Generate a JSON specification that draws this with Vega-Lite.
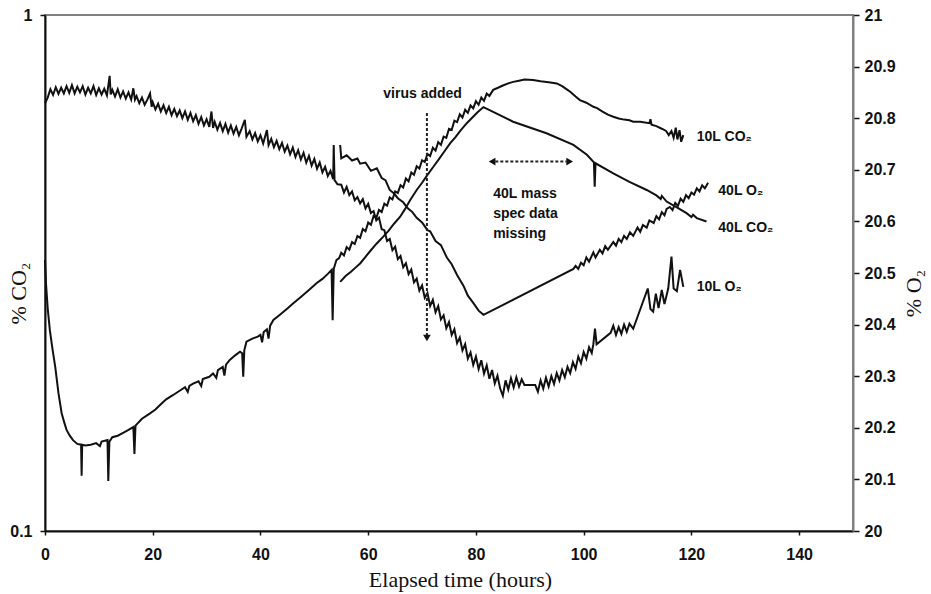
{
"$schema": "https://vega.github.io/schema/vega-lite/v6.json",
"width": 808, "height": 516,
"autosize": {"type": "none"},
"padding": {"left": 45, "top": 15, "right": 78, "bottom": 63},
"background": "white",
"config": {"view": {"stroke": "#808080", "strokeWidth": 2}},
"datasets": {
"co2": [
{"s":"10L","t":0,"v":0.335},{"s":"10L","t":0.2,"v":0.30},{"s":"10L","t":0.5,"v":0.27},{"s":"10L","t":0.9,"v":0.245},{"s":"10L","t":1.4,"v":0.225},{"s":"10L","t":1.9,"v":0.208},{"s":"10L","t":2.5,"v":0.185},{"s":"10L","t":3.1,"v":0.169},{"s":"10L","t":3.6,"v":0.162},{"s":"10L","t":4.0,"v":0.157},{"s":"10L","t":4.6,"v":0.153},{"s":"10L","t":5.2,"v":0.150},{"s":"10L","t":6.0,"v":0.1475},{"s":"10L","t":6.7,"v":0.147},{"s":"10L","t":6.8,"v":0.128},{"s":"10L","t":6.9,"v":0.147},{"s":"10L","t":7.5,"v":0.1465},{"s":"10L","t":8.5,"v":0.147},{"s":"10L","t":9.5,"v":0.148},{"s":"10L","t":10.2,"v":0.146},{"s":"10L","t":10.5,"v":0.149},{"s":"10L","t":11.6,"v":0.150},{"s":"10L","t":11.75,"v":0.125},{"s":"10L","t":11.95,"v":0.149},{"s":"10L","t":12.5,"v":0.152},{"s":"10L","t":13.5,"v":0.153},{"s":"10L","t":14.5,"v":0.155},{"s":"10L","t":15.5,"v":0.157},{"s":"10L","t":16.4,"v":0.159},{"s":"10L","t":16.6,"v":0.141},{"s":"10L","t":16.8,"v":0.160},{"s":"10L","t":18,"v":0.165},{"s":"10L","t":19.5,"v":0.169},{"s":"10L","t":20.5,"v":0.172},{"s":"10L","t":21.5,"v":0.176},{"s":"10L","t":22.5,"v":0.180},{"s":"10L","t":23.8,"v":0.1835},{"s":"10L","t":25,"v":0.187},{"s":"10L","t":26,"v":0.190},{"s":"10L","t":26.5,"v":0.186},{"s":"10L","t":26.8,"v":0.191},{"s":"10L","t":27.5,"v":0.193},{"s":"10L","t":28.5,"v":0.195},{"s":"10L","t":29,"v":0.191},{"s":"10L","t":29.3,"v":0.197},{"s":"10L","t":30.5,"v":0.199},{"s":"10L","t":31.2,"v":0.202},{"s":"10L","t":31.8,"v":0.198},{"s":"10L","t":32.1,"v":0.205},{"s":"10L","t":33,"v":0.208},{"s":"10L","t":33.3,"v":0.200},{"s":"10L","t":33.6,"v":0.210},{"s":"10L","t":34.3,"v":0.2145},{"s":"10L","t":35.3,"v":0.219},{"s":"10L","t":36.2,"v":0.2226},{"s":"10L","t":36.6,"v":0.221},{"s":"10L","t":36.8,"v":0.199},{"s":"10L","t":37.0,"v":0.224},{"s":"10L","t":37.4,"v":0.2327},{"s":"10L","t":38.5,"v":0.236},{"s":"10L","t":39.5,"v":0.238},{"s":"10L","t":40,"v":0.240},{"s":"10L","t":40.3,"v":0.232},{"s":"10L","t":40.6,"v":0.243},{"s":"10L","t":41.2,"v":0.246},{"s":"10L","t":41.5,"v":0.236},{"s":"10L","t":41.8,"v":0.250},{"s":"10L","t":42.4,"v":0.2564},{"s":"10L","t":43.5,"v":0.262},{"s":"10L","t":45,"v":0.270},{"s":"10L","t":46.1,"v":0.2762},{"s":"10L","t":47.5,"v":0.284},{"s":"10L","t":49,"v":0.293},{"s":"10L","t":50.4,"v":0.302},{"s":"10L","t":51.5,"v":0.308},{"s":"10L","t":52.5,"v":0.315},{"s":"10L","t":53.2,"v":0.3205},{"s":"10L","t":53.4,"v":0.256},{"s":"10L","t":53.6,"v":0.322},{"s":"10L","t":54.1,"v":0.335},{"s":"10L","t":54.6,"v":0.338},
{"s":"10L","t":55,"v":0.346},{"s":"10L","t":55.5,"v":0.342},{"s":"10L","t":56,"v":0.355},{"s":"10L","t":56.5,"v":0.351},{"s":"10L","t":57,"v":0.363},{"s":"10L","t":57.5,"v":0.360},{"s":"10L","t":58,"v":0.373},{"s":"10L","t":58.5,"v":0.370},{"s":"10L","t":59,"v":0.385},{"s":"10L","t":59.5,"v":0.381},{"s":"10L","t":60,"v":0.396},{"s":"10L","t":60.5,"v":0.392},{"s":"10L","t":61,"v":0.408},{"s":"10L","t":61.5,"v":0.404},{"s":"10L","t":62,"v":0.419},{"s":"10L","t":62.5,"v":0.415},{"s":"10L","t":63,"v":0.431},{"s":"10L","t":63.5,"v":0.427},{"s":"10L","t":64,"v":0.443},{"s":"10L","t":64.5,"v":0.439},{"s":"10L","t":65,"v":0.455},{"s":"10L","t":65.5,"v":0.452},{"s":"10L","t":66,"v":0.468},{"s":"10L","t":66.5,"v":0.463},{"s":"10L","t":67,"v":0.482},{"s":"10L","t":67.5,"v":0.476},{"s":"10L","t":68,"v":0.495},{"s":"10L","t":68.5,"v":0.490},{"s":"10L","t":69,"v":0.509},{"s":"10L","t":69.5,"v":0.504},{"s":"10L","t":70,"v":0.523},{"s":"10L","t":70.5,"v":0.519},{"s":"10L","t":71,"v":0.538},{"s":"10L","t":71.5,"v":0.533},{"s":"10L","t":72,"v":0.553},{"s":"10L","t":72.5,"v":0.546},{"s":"10L","t":73,"v":0.567},{"s":"10L","t":73.5,"v":0.560},{"s":"10L","t":74,"v":0.581},{"s":"10L","t":74.5,"v":0.578},{"s":"10L","t":75,"v":0.602},{"s":"10L","t":75.5,"v":0.599},{"s":"10L","t":76,"v":0.624},{"s":"10L","t":76.5,"v":0.620},{"s":"10L","t":77,"v":0.642},{"s":"10L","t":77.5,"v":0.633},{"s":"10L","t":78,"v":0.655},{"s":"10L","t":78.5,"v":0.646},{"s":"10L","t":79,"v":0.668},{"s":"10L","t":79.5,"v":0.659},{"s":"10L","t":80,"v":0.681},{"s":"10L","t":80.5,"v":0.670},{"s":"10L","t":81,"v":0.692},{"s":"10L","t":81.5,"v":0.682},{"s":"10L","t":82,"v":0.704},{"s":"10L","t":82.5,"v":0.697},
{"s":"10L","t":83.2,"v":0.716},{"s":"10L","t":84,"v":0.722},{"s":"10L","t":85,"v":0.730},{"s":"10L","t":86,"v":0.737},{"s":"10L","t":86.9,"v":0.742},{"s":"10L","t":88,"v":0.746},{"s":"10L","t":89,"v":0.750},{"s":"10L","t":90.6,"v":0.748},{"s":"10L","t":92,"v":0.744},{"s":"10L","t":93.5,"v":0.741},{"s":"10L","t":95,"v":0.737},{"s":"10L","t":96,"v":0.728},{"s":"10L","t":97,"v":0.716},{"s":"10L","t":97.5,"v":0.710},{"s":"10L","t":98.5,"v":0.695},{"s":"10L","t":99.3,"v":0.684},{"s":"10L","t":100.5,"v":0.676},{"s":"10L","t":101.8,"v":0.664},{"s":"10L","t":102.5,"v":0.660},{"s":"10L","t":103.5,"v":0.650},{"s":"10L","t":104.5,"v":0.641},{"s":"10L","t":105.5,"v":0.635},{"s":"10L","t":106.5,"v":0.630},{"s":"10L","t":107.5,"v":0.627},{"s":"10L","t":108.5,"v":0.625},{"s":"10L","t":109.2,"v":0.621},{"s":"10L","t":110.5,"v":0.621},{"s":"10L","t":112.2,"v":0.617},{"s":"10L","t":112.4,"v":0.628},{"s":"10L","t":112.6,"v":0.613},{"s":"10L","t":113.5,"v":0.609},{"s":"10L","t":114.5,"v":0.602},{"s":"10L","t":115.3,"v":0.596},{"s":"10L","t":115.8,"v":0.585},{"s":"10L","t":116.3,"v":0.596},{"s":"10L","t":116.7,"v":0.578},{"s":"10L","t":117.1,"v":0.605},{"s":"10L","t":117.4,"v":0.574},{"s":"10L","t":117.8,"v":0.598},{"s":"10L","t":118.1,"v":0.568},{"s":"10L","t":118.5,"v":0.585},
{"s":"40L","t":54.8,"v":0.304},{"s":"40L","t":55.8,"v":0.312},{"s":"40L","t":56.8,"v":0.318},{"s":"40L","t":57.8,"v":0.325},{"s":"40L","t":58.5,"v":0.330},{"s":"40L","t":59.5,"v":0.340},{"s":"40L","t":60.5,"v":0.350},{"s":"40L","t":61.5,"v":0.360},{"s":"40L","t":62.8,"v":0.372},{"s":"40L","t":63.8,"v":0.382},{"s":"40L","t":64.8,"v":0.394},{"s":"40L","t":65.9,"v":0.406},{"s":"40L","t":66.8,"v":0.420},{"s":"40L","t":67.8,"v":0.438},{"s":"40L","t":69,"v":0.458},{"s":"40L","t":70,"v":0.473},{"s":"40L","t":71,"v":0.490},{"s":"40L","t":72.1,"v":0.508},{"s":"40L","t":73.1,"v":0.525},{"s":"40L","t":74.2,"v":0.545},{"s":"40L","t":75.2,"v":0.564},{"s":"40L","t":76.2,"v":0.580},{"s":"40L","t":77.2,"v":0.598},{"s":"40L","t":78.3,"v":0.617},{"s":"40L","t":79.3,"v":0.632},{"s":"40L","t":80.3,"v":0.648},{"s":"40L","t":81.4,"v":0.663},{"s":"40L","t":86.9,"v":0.621},{"s":"40L","t":93.1,"v":0.590},{"s":"40L","t":98.1,"v":0.560},{"s":"40L","t":100.6,"v":0.536},{"s":"40L","t":101.9,"v":0.518},{"s":"40L","t":102.05,"v":0.465},{"s":"40L","t":102.2,"v":0.516},{"s":"40L","t":105.5,"v":0.493},{"s":"40L","t":108.5,"v":0.475},{"s":"40L","t":111.7,"v":0.458},{"s":"40L","t":113.5,"v":0.447},{"s":"40L","t":114.3,"v":0.440},{"s":"40L","t":114.5,"v":0.446},{"s":"40L","t":115.4,"v":0.435},{"s":"40L","t":117.3,"v":0.424},{"s":"40L","t":119.1,"v":0.413},{"s":"40L","t":120,"v":0.406},{"s":"40L","t":120.3,"v":0.410},{"s":"40L","t":121,"v":0.404},{"s":"40L","t":122.8,"v":0.398}
],
"o2": [
{"s":"10L","t":0,"v":20.829},{"s":"10L","t":0.5,"v":20.840},{"s":"10L","t":1,"v":20.856},{"s":"10L","t":1.5,"v":20.845},{"s":"10L","t":2,"v":20.860},{"s":"10L","t":2.5,"v":20.847},{"s":"10L","t":3,"v":20.859},{"s":"10L","t":3.5,"v":20.848},{"s":"10L","t":4,"v":20.862},{"s":"10L","t":4.5,"v":20.849},{"s":"10L","t":5,"v":20.864},{"s":"10L","t":5.5,"v":20.848},{"s":"10L","t":6,"v":20.861},{"s":"10L","t":6.5,"v":20.850},{"s":"10L","t":7,"v":20.862},{"s":"10L","t":7.5,"v":20.846},{"s":"10L","t":8,"v":20.859},{"s":"10L","t":8.5,"v":20.848},{"s":"10L","t":9,"v":20.862},{"s":"10L","t":9.5,"v":20.845},{"s":"10L","t":10,"v":20.858},{"s":"10L","t":10.5,"v":20.846},{"s":"10L","t":11,"v":20.857},{"s":"10L","t":11.5,"v":20.844},{"s":"10L","t":12,"v":20.882},{"s":"10L","t":12.2,"v":20.846},{"s":"10L","t":12.5,"v":20.855},{"s":"10L","t":13,"v":20.842},{"s":"10L","t":13.5,"v":20.856},{"s":"10L","t":14,"v":20.840},{"s":"10L","t":14.5,"v":20.852},{"s":"10L","t":15,"v":20.838},{"s":"10L","t":15.5,"v":20.850},{"s":"10L","t":16,"v":20.836},{"s":"10L","t":16.4,"v":20.858},{"s":"10L","t":16.7,"v":20.836},{"s":"10L","t":17,"v":20.843},{"s":"10L","t":17.5,"v":20.829},{"s":"10L","t":18,"v":20.840},{"s":"10L","t":18.5,"v":20.826},{"s":"10L","t":19,"v":20.836},{"s":"10L","t":19.5,"v":20.848},{"s":"10L","t":19.8,"v":20.822},{"s":"10L","t":20,"v":20.831},{"s":"10L","t":20.5,"v":20.817},{"s":"10L","t":21,"v":20.828},{"s":"10L","t":21.5,"v":20.813},{"s":"10L","t":22,"v":20.825},{"s":"10L","t":22.5,"v":20.810},{"s":"10L","t":23,"v":20.822},{"s":"10L","t":23.5,"v":20.806},{"s":"10L","t":24,"v":20.818},{"s":"10L","t":24.5,"v":20.804},{"s":"10L","t":25,"v":20.815},{"s":"10L","t":25.5,"v":20.800},{"s":"10L","t":26,"v":20.813},{"s":"10L","t":26.5,"v":20.797},{"s":"10L","t":27,"v":20.810},{"s":"10L","t":27.5,"v":20.794},{"s":"10L","t":28,"v":20.806},{"s":"10L","t":28.5,"v":20.789},{"s":"10L","t":29,"v":20.802},{"s":"10L","t":29.5,"v":20.786},{"s":"10L","t":30,"v":20.798},{"s":"10L","t":30.5,"v":20.783},{"s":"10L","t":30.9,"v":20.813},{"s":"10L","t":31.2,"v":20.781},{"s":"10L","t":31.5,"v":20.793},{"s":"10L","t":32,"v":20.778},{"s":"10L","t":32.5,"v":20.791},{"s":"10L","t":33,"v":20.775},{"s":"10L","t":33.5,"v":20.789},{"s":"10L","t":34,"v":20.772},{"s":"10L","t":34.5,"v":20.786},{"s":"10L","t":35,"v":20.770},{"s":"10L","t":35.5,"v":20.783},{"s":"10L","t":36,"v":20.767},{"s":"10L","t":36.5,"v":20.780},{"s":"10L","t":37.1,"v":20.797},{"s":"10L","t":37.4,"v":20.764},{"s":"10L","t":38,"v":20.775},{"s":"10L","t":38.5,"v":20.759},{"s":"10L","t":39,"v":20.771},{"s":"10L","t":39.5,"v":20.755},{"s":"10L","t":40,"v":20.767},{"s":"10L","t":40.5,"v":20.751},{"s":"10L","t":41.2,"v":20.777},{"s":"10L","t":41.5,"v":20.748},{"s":"10L","t":42,"v":20.760},{"s":"10L","t":42.5,"v":20.744},{"s":"10L","t":43,"v":20.756},{"s":"10L","t":43.5,"v":20.740},{"s":"10L","t":44,"v":20.752},{"s":"10L","t":44.5,"v":20.735},{"s":"10L","t":45,"v":20.747},{"s":"10L","t":45.5,"v":20.730},{"s":"10L","t":46,"v":20.743},{"s":"10L","t":46.5,"v":20.725},{"s":"10L","t":47,"v":20.738},{"s":"10L","t":47.5,"v":20.720},{"s":"10L","t":48,"v":20.733},{"s":"10L","t":48.5,"v":20.714},{"s":"10L","t":49,"v":20.727},{"s":"10L","t":49.5,"v":20.708},{"s":"10L","t":50,"v":20.721},{"s":"10L","t":50.5,"v":20.702},{"s":"10L","t":51,"v":20.714},{"s":"10L","t":51.5,"v":20.695},{"s":"10L","t":52,"v":20.706},{"s":"10L","t":52.5,"v":20.688},{"s":"10L","t":53,"v":20.698},{"s":"10L","t":53.5,"v":20.682},{"s":"10L","t":53.6,"v":20.748},{"s":"10L","t":53.75,"v":20.680},{"s":"10L","t":54.3,"v":20.672},
{"s":"10L","t":55,"v":20.671},{"s":"10L","t":55.5,"v":20.656},{"s":"10L","t":56,"v":20.667},{"s":"10L","t":56.5,"v":20.651},{"s":"10L","t":57,"v":20.658},{"s":"10L","t":57.5,"v":20.641},{"s":"10L","t":58,"v":20.647},{"s":"10L","t":58.5,"v":20.635},{"s":"10L","t":59,"v":20.643},{"s":"10L","t":59.5,"v":20.625},{"s":"10L","t":60,"v":20.634},{"s":"10L","t":60.5,"v":20.616},{"s":"10L","t":61,"v":20.620},{"s":"10L","t":61.5,"v":20.602},{"s":"10L","t":62,"v":20.607},{"s":"10L","t":62.5,"v":20.585},{"s":"10L","t":63,"v":20.583},{"s":"10L","t":63.5,"v":20.562},{"s":"10L","t":64,"v":20.566},{"s":"10L","t":64.5,"v":20.544},{"s":"10L","t":65,"v":20.551},{"s":"10L","t":65.5,"v":20.527},{"s":"10L","t":66,"v":20.533},{"s":"10L","t":66.5,"v":20.511},{"s":"10L","t":67,"v":20.519},{"s":"10L","t":67.5,"v":20.498},{"s":"10L","t":68,"v":20.507},{"s":"10L","t":68.5,"v":20.482},{"s":"10L","t":69,"v":20.489},{"s":"10L","t":69.5,"v":20.466},{"s":"10L","t":70,"v":20.476},{"s":"10L","t":70.5,"v":20.452},{"s":"10L","t":71,"v":20.461},{"s":"10L","t":71.5,"v":20.436},{"s":"10L","t":72,"v":20.448},{"s":"10L","t":72.5,"v":20.424},{"s":"10L","t":73,"v":20.436},{"s":"10L","t":73.5,"v":20.410},{"s":"10L","t":74,"v":20.418},{"s":"10L","t":74.5,"v":20.393},{"s":"10L","t":75,"v":20.405},{"s":"10L","t":75.5,"v":20.380},{"s":"10L","t":76,"v":20.391},{"s":"10L","t":76.5,"v":20.364},{"s":"10L","t":77,"v":20.375},{"s":"10L","t":77.5,"v":20.350},{"s":"10L","t":78,"v":20.362},{"s":"10L","t":78.5,"v":20.334},{"s":"10L","t":79,"v":20.346},{"s":"10L","t":79.5,"v":20.322},{"s":"10L","t":80,"v":20.338},{"s":"10L","t":80.5,"v":20.314},{"s":"10L","t":81,"v":20.331},{"s":"10L","t":81.5,"v":20.305},{"s":"10L","t":82,"v":20.321},{"s":"10L","t":82.5,"v":20.295},{"s":"10L","t":83,"v":20.312},{"s":"10L","t":83.5,"v":20.286},{"s":"10L","t":84,"v":20.301},{"s":"10L","t":84.5,"v":20.276},{"s":"10L","t":85,"v":20.262},{"s":"10L","t":85.5,"v":20.292},{"s":"10L","t":86,"v":20.274},{"s":"10L","t":86.5,"v":20.296},{"s":"10L","t":87,"v":20.278},{"s":"10L","t":87.5,"v":20.298},{"s":"10L","t":88,"v":20.280},{"s":"10L","t":88.5,"v":20.294},{"s":"10L","t":89,"v":20.283},{"s":"10L","t":91,"v":20.283},{"s":"10L","t":91.5,"v":20.270},{"s":"10L","t":92,"v":20.292},{"s":"10L","t":92.5,"v":20.276},{"s":"10L","t":93,"v":20.297},{"s":"10L","t":93.5,"v":20.280},{"s":"10L","t":94,"v":20.300},{"s":"10L","t":94.5,"v":20.285},{"s":"10L","t":95,"v":20.306},{"s":"10L","t":95.5,"v":20.292},{"s":"10L","t":96,"v":20.312},{"s":"10L","t":96.5,"v":20.298},{"s":"10L","t":97,"v":20.318},{"s":"10L","t":97.5,"v":20.306},{"s":"10L","t":98,"v":20.327},{"s":"10L","t":98.5,"v":20.314},{"s":"10L","t":99,"v":20.338},{"s":"10L","t":99.5,"v":20.325},{"s":"10L","t":100,"v":20.347},{"s":"10L","t":100.5,"v":20.334},{"s":"10L","t":101,"v":20.356},{"s":"10L","t":101.5,"v":20.345},{"s":"10L","t":101.8,"v":20.362},{"s":"10L","t":102.1,"v":20.392},{"s":"10L","t":102.4,"v":20.362},{"s":"10L","t":105,"v":20.384},{"s":"10L","t":105.5,"v":20.398},{"s":"10L","t":106,"v":20.380},{"s":"10L","t":106.5,"v":20.395},{"s":"10L","t":107,"v":20.382},{"s":"10L","t":107.5,"v":20.400},{"s":"10L","t":108,"v":20.386},{"s":"10L","t":108.5,"v":20.402},{"s":"10L","t":109.2,"v":20.392},{"s":"10L","t":111.9,"v":20.470},{"s":"10L","t":112.4,"v":20.430},{"s":"10L","t":112.9,"v":20.425},{"s":"10L","t":113.4,"v":20.460},{"s":"10L","t":113.9,"v":20.432},{"s":"10L","t":114.5,"v":20.467},{"s":"10L","t":115,"v":20.440},{"s":"10L","t":115.7,"v":20.470},{"s":"10L","t":116.3,"v":20.532},{"s":"10L","t":116.7,"v":20.470},{"s":"10L","t":117.3,"v":20.465},{"s":"10L","t":117.9,"v":20.506},{"s":"10L","t":118.5,"v":20.473},
{"s":"40L","t":54.8,"v":20.748},{"s":"40L","t":55.0,"v":20.722},{"s":"40L","t":56,"v":20.728},{"s":"40L","t":57,"v":20.718},{"s":"40L","t":58,"v":20.722},{"s":"40L","t":58.5,"v":20.712},{"s":"40L","t":59.5,"v":20.714},{"s":"40L","t":60.5,"v":20.698},{"s":"40L","t":61.6,"v":20.703},{"s":"40L","t":62.5,"v":20.684},{"s":"40L","t":63.2,"v":20.680},{"s":"40L","t":64,"v":20.661},{"s":"40L","t":64.8,"v":20.654},{"s":"40L","t":65.5,"v":20.645},{"s":"40L","t":66.5,"v":20.637},{"s":"40L","t":67.3,"v":20.626},{"s":"40L","t":68.2,"v":20.618},{"s":"40L","t":69,"v":20.607},{"s":"40L","t":70,"v":20.598},{"s":"40L","t":71,"v":20.583},{"s":"40L","t":71.5,"v":20.581},{"s":"40L","t":72.5,"v":20.562},{"s":"40L","t":73.5,"v":20.554},{"s":"40L","t":74.6,"v":20.530},{"s":"40L","t":75.5,"v":20.517},{"s":"40L","t":76.5,"v":20.496},{"s":"40L","t":77.7,"v":20.475},{"s":"40L","t":78.5,"v":20.456},{"s":"40L","t":79.5,"v":20.442},{"s":"40L","t":80.5,"v":20.427},{"s":"40L","t":81.4,"v":20.419},{"s":"40L","t":98.1,"v":20.508},{"s":"40L","t":98.5,"v":20.514},{"s":"40L","t":99,"v":20.508},{"s":"40L","t":99.5,"v":20.520},{"s":"40L","t":100,"v":20.515},{"s":"40L","t":100.5,"v":20.530},{"s":"40L","t":101,"v":20.522},{"s":"40L","t":101.8,"v":20.540},{"s":"40L","t":102.2,"v":20.530},{"s":"40L","t":103,"v":20.545},{"s":"40L","t":103.5,"v":20.538},{"s":"40L","t":104,"v":20.552},{"s":"40L","t":104.5,"v":20.545},{"s":"40L","t":105.5,"v":20.560},{"s":"40L","t":106,"v":20.553},{"s":"40L","t":106.5,"v":20.566},{"s":"40L","t":107,"v":20.560},{"s":"40L","t":107.5,"v":20.572},{"s":"40L","t":108,"v":20.566},{"s":"40L","t":108.6,"v":20.579},{"s":"40L","t":109.2,"v":20.572},{"s":"40L","t":110,"v":20.588},{"s":"40L","t":110.5,"v":20.580},{"s":"40L","t":111,"v":20.593},{"s":"40L","t":111.7,"v":20.588},{"s":"40L","t":112.2,"v":20.602},{"s":"40L","t":113,"v":20.597},{"s":"40L","t":113.5,"v":20.610},{"s":"40L","t":114,"v":20.604},{"s":"40L","t":114.5,"v":20.618},{"s":"40L","t":115,"v":20.612},{"s":"40L","t":115.4,"v":20.624},{"s":"40L","t":116,"v":20.628},{"s":"40L","t":116.5,"v":20.622},{"s":"40L","t":117,"v":20.636},{"s":"40L","t":117.5,"v":20.630},{"s":"40L","t":118,"v":20.644},{"s":"40L","t":118.5,"v":20.638},{"s":"40L","t":119,"v":20.651},{"s":"40L","t":119.5,"v":20.645},{"s":"40L","t":120,"v":20.656},{"s":"40L","t":120.5,"v":20.652},{"s":"40L","t":121,"v":20.664},{"s":"40L","t":121.5,"v":20.658},{"s":"40L","t":122,"v":20.670},{"s":"40L","t":122.5,"v":20.664},{"s":"40L","t":123.1,"v":20.675}
],
"notes": [
{"label":"virus added","t":62.8,"v":20.847},
{"label":"40L mass","t":83.2,"v":20.653},
{"label":"spec data","t":83.2,"v":20.614},
{"label":"missing","t":83.2,"v":20.576},
{"label":"10L CO₂","t":121.0,"v":20.764},
{"label":"40L O₂","t":125.0,"v":20.658},
{"label":"40L CO₂","t":125.0,"v":20.587},
{"label":"10L O₂","t":121.0,"v":20.473}
],
"guides": [
{"t":70.9,"t2":70.9,"v":20.81,"v2":20.38},
{"t":83.6,"t2":96.8,"v":20.716,"v2":20.716}
],
"heads": [
{"t":70.9,"v":20.374,"shape":"triangle-down"},
{"t":83.0,"v":20.716,"shape":"triangle-left"},
{"t":97.4,"v":20.716,"shape":"triangle-right"}
]
},
"encoding": {
"x": {"field": "t", "type": "quantitative",
 "scale": {"domain": [0, 150], "nice": false},
 "axis": {"values": [0,20,40,60,80,100,120,140], "title": "Elapsed time (hours)",
  "titleFont": "Liberation Serif", "titleFontSize": 22, "titleFontWeight": "normal", "titleColor": "#111",
  "titleX": 415, "titleY": 55, "titleBaseline": "alphabetic",
  "labelFont": "Liberation Sans", "labelFontSize": 16, "labelFontWeight": "bold", "labelColor": "#111", "labelPadding": 11, "labelFlush": false,
  "tickSize": 4, "tickColor": "#111", "tickWidth": 1.5, "domainColor": "#111", "domainWidth": 2, "grid": false}}
},
"layer": [
{"data": {"name": "co2"},
 "mark": {"type": "line", "color": "#111", "strokeWidth": 2},
 "encoding": {
  "y": {"field": "v", "type": "quantitative",
   "scale": {"type": "log", "domain": [0.1, 1], "nice": false},
   "axis": {"orient": "left", "values": [0.1, 1], "format": "~g", "title": "% CO₂",
    "titleFont": "Liberation Serif", "titleFontSize": 22, "titleFontWeight": "normal", "titleColor": "#111",
    "titleAngle": -90, "titleX": -20, "titleY": 278, "titleAlign": "center", "titleBaseline": "alphabetic",
    "labelFont": "Liberation Sans", "labelFontSize": 16, "labelFontWeight": "bold", "labelColor": "#111", "labelPadding": 8,
    "tickSize": 5, "tickColor": "#111", "tickWidth": 1.5, "domainColor": "#111", "domainWidth": 2, "grid": false}},
  "detail": {"field": "s"}
 }},
{"encoding": {
  "y": {"field": "v", "type": "quantitative",
   "scale": {"domain": [20, 21], "nice": false},
   "axis": {"orient": "right", "values": [20,20.1,20.2,20.3,20.4,20.5,20.6,20.7,20.8,20.9,21], "format": ".1~f", "title": "% O₂",
    "titleFont": "Liberation Serif", "titleFontSize": 22, "titleFontWeight": "normal", "titleColor": "#111",
    "titleAngle": -90, "titleX": 67, "titleY": 278, "titleAlign": "center", "titleBaseline": "alphabetic",
    "labelFont": "Liberation Sans", "labelFontSize": 16, "labelFontWeight": "bold", "labelColor": "#111", "labelPadding": 5,
    "tickSize": 6, "tickColor": "#111", "tickWidth": 1.5, "domainColor": "#808080", "domainWidth": 2, "grid": false}}
 },
 "layer": [
  {"data": {"name": "o2"},
   "mark": {"type": "line", "color": "#111", "strokeWidth": 2},
   "encoding": {"detail": {"field": "s"}}},
  {"data": {"name": "guides"},
   "mark": {"type": "rule", "color": "#222", "strokeWidth": 2, "strokeDash": [3, 2]},
   "encoding": {"x2": {"field": "t2"}, "y2": {"field": "v2"}}},
  {"data": {"name": "heads"},
   "mark": {"type": "point", "filled": true, "color": "#111", "size": 60, "opacity": 1},
   "encoding": {"shape": {"field": "shape", "type": "nominal", "scale": null}}},
  {"data": {"name": "notes"},
   "mark": {"type": "text", "font": "Liberation Sans", "fontSize": 14, "fontWeight": "bold", "align": "left", "baseline": "middle", "color": "#111"},
   "encoding": {"text": {"field": "label"}}}
 ]}
],
"resolve": {"scale": {"y": "independent"}}
}
